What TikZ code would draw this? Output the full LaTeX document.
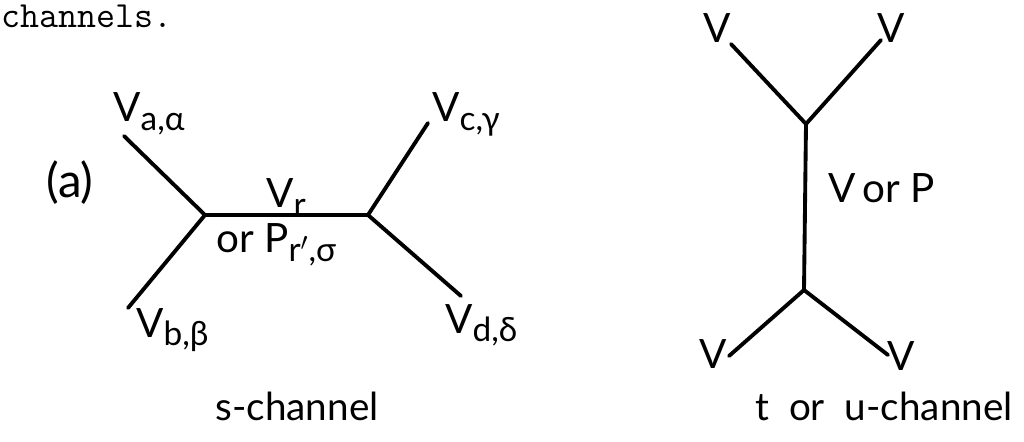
\documentclass[tikz,border=0pt]{standalone}
\usepackage{fontspec}
\setmainfont{Lato}
\usepackage{tikz}
\usetikzlibrary{positioning}

\newcommand{\lbl}[2]{#1\raisebox{-0.4ex}{\fontsize{19}{22}\selectfont #2}}

\begin{document}
\begin{tikzpicture}[
  x=0.02cm, y=-0.02cm,
  line/.style={line width=2.2pt, line cap=round, line join=round},
  every node/.style={inner sep=0pt, font=\fontsize{23}{27}\selectfont},
  tag/.style={anchor=base west},
  caption/.style={anchor=base}
]
\useasboundingbox (0,0) rectangle (1024,442);

% s-channel
\coordinate (sl) at (205,215);
\coordinate (sr) at (368,215);
\coordinate (a) at (124,136);
\coordinate (b) at (128,308);
\coordinate (c) at (428,123);
\coordinate (d) at (461,296);

\draw[line] (a) -- (sl) -- (b);
\draw[line] (sl) -- (sr);
\draw[line] (c) -- (sr) -- (d);

\node (head) [anchor=base west, font=\fontsize{21}{24}\selectfont\ttfamily] at (1,28) {channels.};
\node (tagA) [font=\fontsize{27}{30}\selectfont] at (70,183) {(a)};
\node (Va) [tag] at (113,122) {\lbl{V}{a,α}};
\node (Vb) [tag] at (136,337) {\lbl{V}{b,β}};
\node (Vc) [tag] at (432,122) {\lbl{V}{c,γ}};
\node (Vd) [tag] at (445,333) {\lbl{V}{d,δ}};
\node (Vr) [tag] at (266,208) {\lbl{V}{r}};
\node (Pr) [tag] at (216,253) {or \lbl{P}{r$'$,σ}};
\node (scap) [caption, font=\fontsize{22}{26}\selectfont] at (297,420) {s-channel};

% t or u-channel
\coordinate (tt) at (806,124);
\coordinate (tb) at (804,290);
\coordinate (e) at (731,44);
\coordinate (f) at (881,40);
\coordinate (g) at (729,356);
\coordinate (h) at (888,355);

\draw[line] (e) -- (tt) -- (f);
\draw[line] (tt) -- (tb);
\draw[line] (g) -- (tb) -- (h);

\node (Ve) [tag] at (703,43) {V};
\node (Vf) [tag] at (877,43) {V};
\node (Vg) [tag] at (699,368) {V};
\node (Vh) [tag] at (887,370) {V};
\node (VP) [tag] at (828,203) {V\,or P};
\node (tcap) [caption, font=\fontsize{22}{26}\selectfont] at (884,420) {t\ \ or\ \ u-channel};
\end{tikzpicture}
\end{document}
